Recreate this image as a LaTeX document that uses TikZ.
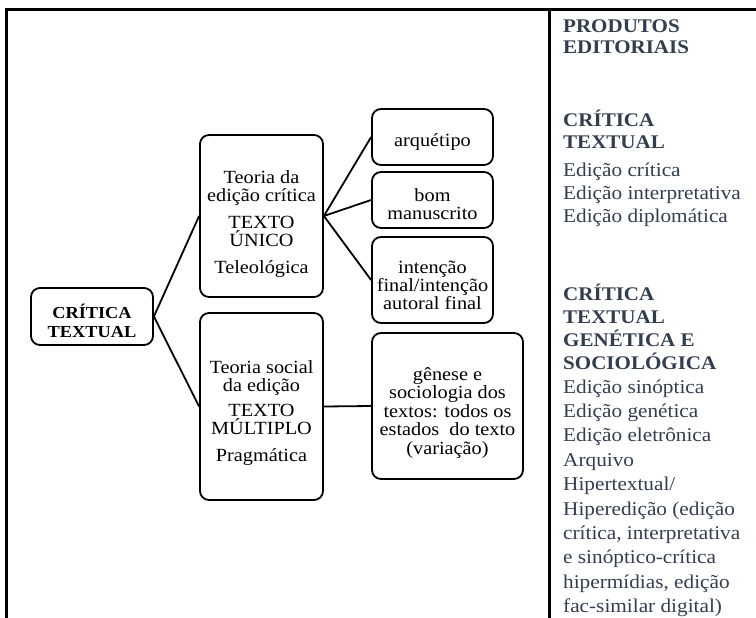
\documentclass[tikz,border=0pt]{standalone}
\usepackage{fontspec}
\setmainfont{Liberation Serif}[FakeStretch=1.09]
\definecolor{slate}{RGB}{50,62,79}
\begin{document}
\begin{tikzpicture}[x=1pt,y=-1pt,
  box/.style={draw, line width=1.8pt, rounded corners=9pt, inner sep=0pt},
  boxtext/.style={align=center, inner sep=0pt, font=\fontsize{18.6}{18}\selectfont},
  conn/.style={line width=1.8pt},
  frameline/.style={line width=3pt},
  hd/.style={anchor=base west, inner sep=0pt, font=\fontsize{19.3}{22}\selectfont\bfseries, text=slate},
  bd/.style={anchor=base west, inner sep=0pt, font=\fontsize{19.5}{22}\selectfont, text=slate}]
\useasboundingbox (0,0) rectangle (756,618);
% frame
\draw[frameline] (6.5,618) -- (6.5,10) -- (756,10);
\draw[frameline] (549,10) -- (549,618);
% boxes
\node[box, minimum width=122pt, minimum height=57pt] (ct) at (92,316.5) {};
\node[box, minimum width=123pt, minimum height=162pt] (te) at (261.5,216) {};
\node[box, minimum width=123pt, minimum height=187pt] (ts) at (261.5,406.5) {};
\node[box, minimum width=121pt, minimum height=56pt] (arq) at (432.5,137) {};
\node[box, minimum width=121pt, minimum height=56pt] (bom) at (432.5,200) {};
\node[box, minimum width=121pt, minimum height=86pt] (int) at (432.5,280) {};
\node[box, minimum width=151pt, minimum height=146pt] (gen) at (447.5,406) {};
% box texts
\node[boxtext, font=\fontsize{16.8}{19}\selectfont\bfseries] (ct-t) at ([yshift=-4pt]ct.center) {CRÍTICA\\TEXTUAL};
\node[boxtext] (te-t) at ([yshift=-8pt]te.center) {Teoria da\\edição crítica\\[9pt]TEXTO\\ÚNICO\\[9pt]Teleológica};
\node[boxtext] (ts-t) at ([yshift=-7pt]ts.center) {Teoria social\\da edição\\[7pt]TEXTO\\MÚLTIPLO\\[9pt]Pragmática};
\node[boxtext] (arq-t) at ([yshift=-5pt]arq.center) {arquétipo};
\node[boxtext] (bom-t) at ([yshift=-4pt]bom.center) {bom\\manuscrito};
\node[boxtext] (int-t) at ([yshift=-5pt]int.center) {intenção\\final/intenção\\autoral final};
\node[boxtext, font=\fontsize{18.6}{18.5}\selectfont] (gen-t) at ([yshift=-7pt]gen.center) {gênese e\\sociologia dos\\textos: todos os\\estados\ \ do texto\\(variação)};
% connectors
\draw[conn] (ct.east) -- (te.west);
\draw[conn] (ct.east) -- (ts.west);
\draw[conn] (te.east) -- (arq.west);
\draw[conn] (te.east) -- (bom.west);
\draw[conn] (te.east) -- (int.west);
\draw[conn] (ts.east) -- (gen.west);
% right column
\foreach \t/\yy [count=\i] in {PRODUTOS/33, EDITORIAIS/54, CRÍTICA/127, TEXTUAL/149,
    CRÍTICA/300, TEXTUAL/323, GENÉTICA E/346, SOCIOLÓGICA/369}
  \node[hd] (h\i) at (563,\yy) {\t};
\foreach \t/\yy [count=\i] in {Edição crítica/176, Edição interpretativa/199, Edição diplomática/222,
    Edição sinóptica/393, Edição genética/417.4, Edição eletrônica/441.8, Arquivo/466.2,
    Hipertextual\slash/490.6, Hiperedição (edição/515, {crítica, interpretativa}/539.4,
    e sinóptico-crítica/563.8, {hipermídias, edição}/588.2, fac-similar digital)/612.6}
  \node[bd] (b\i) at (563,\yy) {\t};
\end{tikzpicture}
\end{document}
